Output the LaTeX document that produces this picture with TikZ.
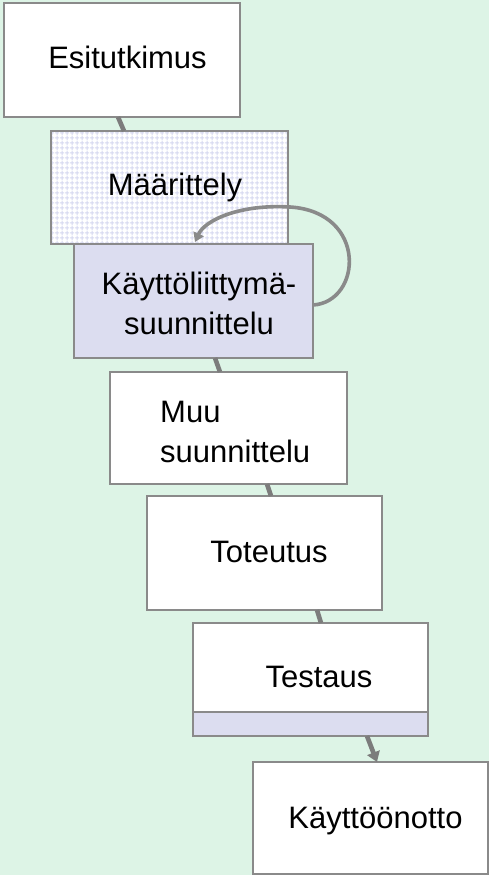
\documentclass[tikz,border=0pt]{standalone}
\usepackage{fontspec}
\setmainfont{Liberation Sans}
\usetikzlibrary{arrows.meta,patterns.meta}
\definecolor{bgmint}{HTML}{DDF4E6}
\definecolor{boxline}{HTML}{8A8A8A}
\definecolor{conn}{HTML}{7C7C7C}
\definecolor{lav}{HTML}{DCDDF0}
\definecolor{patc}{HTML}{D6D8F0}
\tikzdeclarepattern{
  name=dotgrid,
  type=uncolored,
  bounding box={(0pt,0pt) and (4.6pt,4.6pt)},
  tile size={(4.6pt,4.6pt)},
  code={
    \pgfsetlinewidth{1.1pt}
    \pgfpathmoveto{\pgfpoint{0pt}{2.3pt}}\pgfpathlineto{\pgfpoint{4.6pt}{2.3pt}}
    \pgfpathmoveto{\pgfpoint{2.3pt}{0pt}}\pgfpathlineto{\pgfpoint{2.3pt}{4.6pt}}
    \pgfusepath{stroke}
  }
}
\tikzset{
  box/.style={draw=boxline, line width=1.4pt, fill=white, rectangle, inner sep=0pt, outer sep=0pt, anchor=north west},
  lbl/.style={inner sep=0pt, font=\fontsize{31}{40}\selectfont},
  conline/.style={draw=conn, line width=4.6pt},
  loopline/.style={draw=boxline, line width=3.6pt}
}
\begin{document}
\begin{tikzpicture}[x=1pt,y=-1pt]
\fill[bgmint] (0,0) rectangle (489,875);
\useasboundingbox (0,0) rectangle (489,875);
% boxes
\node[box, minimum width=236pt, minimum height=114pt] (esi) at (4,3) {};
\node[box, minimum width=237pt, minimum height=113pt] (maar) at (51,131) {};
\fill[pattern={dotgrid}, pattern color=patc] (maar.north west) rectangle (maar.south east);
\draw[boxline, line width=1.4pt] (maar.north west) rectangle (maar.south east);
\node[box, fill=lav, minimum width=239pt, minimum height=114pt] (kl) at (74,244) {};
\node[box, minimum width=237pt, minimum height=112pt] (muu) at (110,372) {};
\node[box, minimum width=235pt, minimum height=114pt] (tot) at (147,496) {};
\node[box, minimum width=235pt, minimum height=113pt] (test) at (193,623) {};
\coordinate (tstripL) at (193,712);
\fill[lav] (tstripL) rectangle (test.south east);
\draw[boxline, line width=1.4pt] (tstripL) -- (tstripL -| test.east);
\draw[boxline, line width=1.4pt] (test.north west) rectangle (test.south east);
\node[box, minimum width=235pt, minimum height=112pt] (kao) at (253,762) {};
% labels
\node[lbl, anchor=base] (tesi) at (127.5,68) {Esitutkimus};
\node[lbl, anchor=base] (tmaar) at (175,195) {Määrittely};
\node[lbl, align=center] (tkl) at (199,303.5) {Käyttöliittymä-\\suunnittelu};
\node[lbl, align=left, anchor=west] (tmuu) at (160,431.5) {Muu\\suunnittelu};
\node[lbl, anchor=base] (ttot) at (269,562) {Toteutus};
\node[lbl, anchor=base] (ttest) at (319,687) {Testaus};
\node[lbl, anchor=base] (tkao) at (375.5,828) {Käyttöönotto};
% connectors
\draw[conline] ([xshift=-4pt]esi.south) -- ([xshift=-45.5pt]maar.north);
\draw[conline] ([xshift=21.5pt]kl.south) -- ([xshift=-8.5pt]muu.north);
\draw[conline] ([xshift=38.5pt]muu.south) -- ([xshift=6.5pt]tot.north);
\draw[conline] ([xshift=52.5pt]tot.south) -- ([xshift=10.5pt]test.north);
\draw[conline, -{Triangle[width=13pt,length=10pt]}] ([xshift=56.5pt]test.south) -- ([xshift=6.5pt]kao.north);
% loop
\coordinate (ltip) at (195,242);
\draw[loopline, -{Triangle[width=11pt,length=9pt]}] ([yshift=-4pt]kl.east) .. controls (362,302) and (368,212) .. (290,207) .. controls (240,204) and (205,220) .. (ltip);
\end{tikzpicture}
\end{document}
